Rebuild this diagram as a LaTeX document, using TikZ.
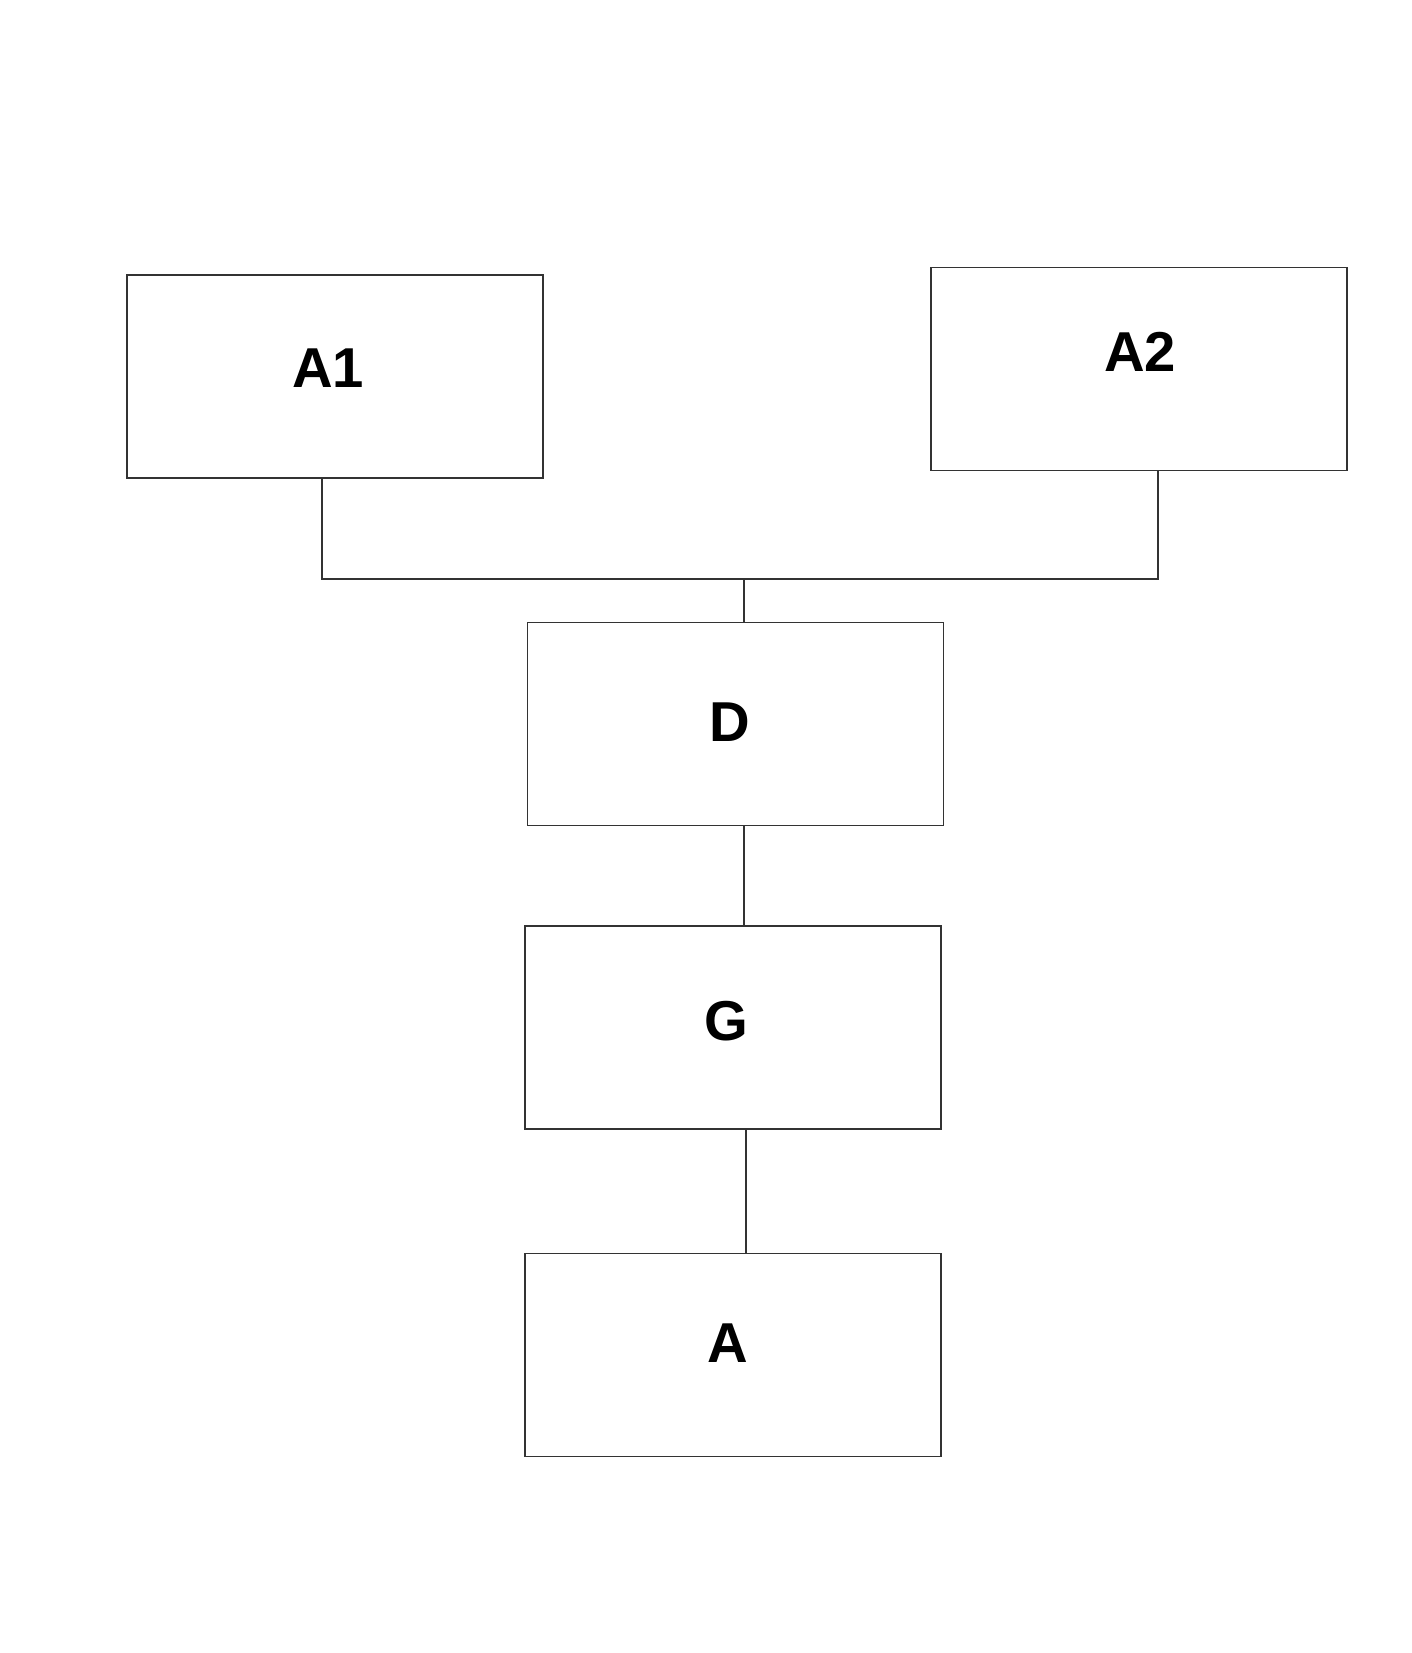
\documentclass[tikz,border=0pt]{standalone}
\usepackage{fontspec}
\setmainfont{Liberation Sans}
\begin{document}
\begin{tikzpicture}[x=0.02cm, y=-0.02cm,
	block/.style={draw=black!80, line width=0.8pt, minimum width=8.32cm, minimum height=4.06cm, inner sep=0pt},
	label/.style={font=\fontsize{32}{38}\selectfont\bfseries},
	link/.style={draw=black!80, line width=0.8pt}]
	\useasboundingbox (0,0) rectangle (1412,1653);
	\node[block] (A1) at (335,376.5) {};
	\node[label] (tA1) at (328,368) {A1};
	\node[block] (A2) at (1139,369) {};
	\node[label] (tA2) at (1140,352) {A2};
	\node[block] (D) at (735.5,724) {};
	\node[label] (tD) at (730,722) {D};
	\node[block] (G) at (733,1027.5) {};
	\node[label] (tG) at (726,1021) {G};
	\node[block] (A) at (733,1355) {};
	\node[label] (tA) at (728,1343) {A};
	\coordinate (bus) at (744,579);
	\draw[link] (A1.south -| 322,0) |- (bus) -| (A2.south -| 1158,0);
	\draw[link] (bus) -- (D.north -| bus);
	\draw[link] (D.south -| bus) -- (G.north -| bus);
	\draw[link] (G.south -| 746,0) -- (A.north -| 746,0);
\end{tikzpicture}
\end{document}
